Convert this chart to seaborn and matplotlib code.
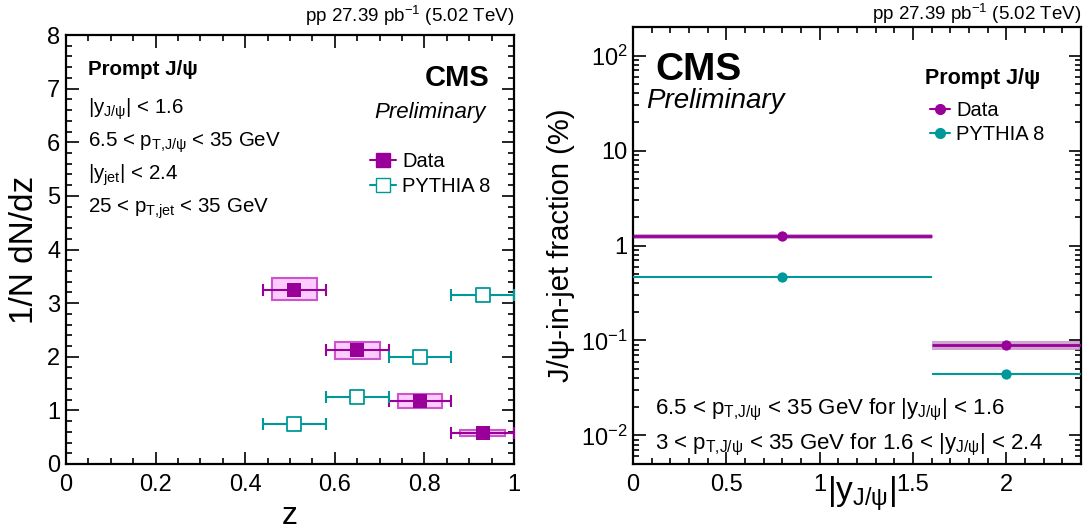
import matplotlib
matplotlib.use('Agg')
import matplotlib.pyplot as plt
import matplotlib.ticker as mticker
from matplotlib.patches import Rectangle
from matplotlib.lines import Line2D
import seaborn as sns
import numpy as np
import pandas as pd

# left panel: z distribution
z_centers = [0.51, 0.65, 0.79, 0.93]
z_lo = [0.44, 0.58, 0.72, 0.86]
z_hi = [0.58, 0.72, 0.86, 1.00]
data_dndz = [3.25, 2.12, 1.18, 0.58]
data_syst_lo = [3.05, 1.96, 1.05, 0.52]
data_syst_hi = [3.46, 2.28, 1.31, 0.64]
pythia_dndz = [0.74, 1.25, 2.00, 3.15]

# right panel: J/psi-in-jet fraction vs |y|
y_centers = [0.8, 2.0]
y_lo = [0.0, 1.6]
y_hi = [1.6, 2.4]
data_frac = [1.26, 0.0885]
data_frac_lo = [1.16, 0.080]
data_frac_hi = [1.32, 0.098]
pythia_frac = [0.465, 0.0446]

PURPLE = '#990099'
TEAL = '#009999'
BOX_FC = '#ffccff'
BOX_EC = '#cc55cc'
BAND = '#c896c8'

sns.set_theme(style='ticks')
plt.rcParams['font.family'] = ['Liberation Sans', 'DejaVu Sans']
plt.rcParams.update({'mathtext.fontset': 'custom',
                     'mathtext.rm': 'Liberation Sans',
                     'mathtext.it': 'Liberation Sans:italic',
                     'mathtext.bf': 'Liberation Sans:bold',
                     'axes.linewidth': 1.6,
                     'axes.edgecolor': 'black',
                     'text.color': 'black',
                     'axes.labelcolor': 'black',
                     'xtick.color': 'black',
                     'ytick.color': 'black'})

fig = plt.figure(figsize=(10.85, 5.31), dpi=100)
ax1 = fig.add_axes([66 / 1085, 1 - 464 / 531, 448 / 1085, 429 / 531])
ax2 = fig.add_axes([633 / 1085, 1 - 464 / 531, 448 / 1085, 437 / 531])

left = pd.DataFrame({'z': z_centers, 'lo': z_lo, 'hi': z_hi,
                     'data': data_dndz, 'slo': data_syst_lo,
                     'shi': data_syst_hi, 'pythia': pythia_dndz})
right = pd.DataFrame({'y': y_centers, 'lo': y_lo, 'hi': y_hi,
                      'data': data_frac, 'blo': data_frac_lo,
                      'bhi': data_frac_hi, 'pythia': pythia_frac})

# ---- left panel ----
for _, r in left.iterrows():
    ax1.add_patch(Rectangle((r['z'] - 0.05, r['slo']), 0.10, r['shi'] - r['slo'],
                            fc=BOX_FC, ec=BOX_EC, lw=1.5, zorder=2))
ax1.errorbar(left['z'], left['data'],
             xerr=[left['z'] - left['lo'], left['hi'] - left['z']],
             fmt='none', ecolor=PURPLE, elinewidth=1.5, capsize=4,
             capthick=1.5, zorder=3)
ax1.errorbar(left['z'], left['pythia'],
             xerr=[left['z'] - left['lo'], left['hi'] - left['z']],
             fmt='none', ecolor=TEAL, elinewidth=1.5, capsize=4,
             capthick=1.5, zorder=3)
sns.scatterplot(data=left, x='z', y='data', ax=ax1, marker='s', s=100,
                color=PURPLE, edgecolor=PURPLE, linewidth=0, zorder=4)
sns.scatterplot(data=left, x='z', y='pythia', ax=ax1, marker='s', s=100,
                facecolor='white', edgecolor=TEAL, linewidth=1.3, zorder=4)

ax1.set_xlim(0, 1)
ax1.set_ylim(0, 8)
ax1.xaxis.set_major_locator(mticker.MultipleLocator(0.2))
ax1.xaxis.set_minor_locator(mticker.MultipleLocator(0.05))
ax1.yaxis.set_major_locator(mticker.MultipleLocator(1))
ax1.yaxis.set_minor_locator(mticker.MultipleLocator(0.2))
ax1.xaxis.set_major_formatter(mticker.FuncFormatter(lambda v, p: f'{v:g}'))
ax1.set_xlabel('z', fontsize=23)
ax1.set_ylabel('1/N dN/dz', fontsize=24, labelpad=5)

t_kw = dict(transform=ax1.transAxes, fontsize=14.8, va='baseline', ha='left')
ax1.text(0.049, 0.906, 'Prompt J/ψ', fontweight='bold', **t_kw)
ax1.text(0.049, 0.817, r'|y$_\mathregular{J/ψ}$| < 1.6', **t_kw)
ax1.text(0.049, 0.739, r'6.5 < p$_\mathregular{T{,}J/ψ}$ < 35 GeV', **t_kw)
ax1.text(0.049, 0.662, r'|y$_\mathregular{jet}$| < 2.4', **t_kw)
ax1.text(0.049, 0.585, r'25 < p$_\mathregular{T{,}jet}$ < 35 GeV', **t_kw)
ax1.text(0.946, 0.88, 'CMS', transform=ax1.transAxes, fontsize=21,
         fontweight='bold', ha='right', va='baseline')
ax1.text(0.9375, 0.807, 'Preliminary', transform=ax1.transAxes, fontsize=16,
         style='italic', ha='right', va='baseline')
ax1.text(1.0, 1.03, r'pp 27.39 pb$^\mathregular{-1}$ (5.02 TeV)',
         transform=ax1.transAxes, fontsize=13.5, ha='right', va='baseline')

h_data = Line2D([], [], color=PURPLE, marker='s', markersize=10, lw=1.5)
h_py = Line2D([], [], color=TEAL, marker='s', markersize=10, lw=1.5,
              mfc='white', mec=TEAL)
ax1.legend([h_data, h_py], ['Data', 'PYTHIA 8'], frameon=False, fontsize=14.5,
           loc='upper left', bbox_to_anchor=(0.66, 0.745), handlelength=1.3,
           handletextpad=0.3, labelspacing=0.3, borderaxespad=0)

# ---- right panel ----
for _, r in right.iterrows():
    ax2.add_patch(Rectangle((r['lo'], r['blo']), r['hi'] - r['lo'],
                            r['bhi'] - r['blo'], fc=BAND, ec='none',
                            alpha=0.85, zorder=2))
ax2.errorbar(right['y'], right['data'],
             xerr=[right['y'] - right['lo'], right['hi'] - right['y']],
             fmt='none', ecolor=PURPLE, elinewidth=2, capsize=0, zorder=3)
ax2.errorbar(right['y'], right['pythia'],
             xerr=[right['y'] - right['lo'], right['hi'] - right['y']],
             fmt='none', ecolor=TEAL, elinewidth=1.5, capsize=0, zorder=3)
sns.scatterplot(data=right, x='y', y='data', ax=ax2, marker='o', s=55,
                color=PURPLE, linewidth=0, zorder=4)
sns.scatterplot(data=right, x='y', y='pythia', ax=ax2, marker='o', s=55,
                color=TEAL, linewidth=0, zorder=4)

ax2.set_yscale('log')
ax2.set_xlim(0, 2.4)
ax2.set_ylim(0.005, 200)
ax2.xaxis.set_major_locator(mticker.FixedLocator([0, 0.5, 1, 1.5, 2]))
ax2.xaxis.set_minor_locator(mticker.MultipleLocator(0.1))
ax2.xaxis.set_major_formatter(mticker.FuncFormatter(lambda v, p: f'{v:g}'))
ax2.yaxis.set_major_locator(mticker.LogLocator(base=10, numticks=10))
ax2.yaxis.set_minor_locator(mticker.LogLocator(base=10, subs=np.arange(2, 10),
                                               numticks=20))
ylabels = {-2: r'$10^{-2}$', -1: r'$10^{-1}$', 0: '1', 1: '10', 2: r'$10^{2}$'}
ax2.yaxis.set_major_formatter(mticker.FuncFormatter(
    lambda v, p: ylabels.get(int(round(np.log10(v))), '')))
ax2.yaxis.set_minor_formatter(mticker.NullFormatter())
ax2.set_xlabel(r'|y$_\mathregular{J/ψ}$|', fontsize=24)
ax2.xaxis.set_label_coords(0.51, -0.025)
ax2.set_ylabel('J/ψ-in-jet fraction (%)', fontsize=21, labelpad=4)

ax2.text(0.051, 0.878, 'CMS', transform=ax2.transAxes, fontsize=28,
         fontweight='bold', ha='left', va='baseline')
ax2.text(0.029, 0.815, 'Preliminary', transform=ax2.transAxes, fontsize=20,
         style='italic', ha='left', va='baseline')
ax2.text(0.652, 0.869, 'Prompt J/ψ', transform=ax2.transAxes, fontsize=15.5,
         fontweight='bold', ha='left', va='baseline')
b_kw = dict(transform=ax2.transAxes, fontsize=16, va='baseline', ha='left')
ax2.text(0.048, 0.113,
         r'6.5 < p$_\mathregular{T{,}J/ψ}$ < 35 GeV for |y$_\mathregular{J/ψ}$| < 1.6',
         **b_kw)
ax2.text(0.048, 0.034,
         r'3 < p$_\mathregular{T{,}J/ψ}$ < 35 GeV for 1.6 < |y$_\mathregular{J/ψ}$| < 2.4',
         **b_kw)
ax2.text(1.0, 1.015, r'pp 27.39 pb$^\mathregular{-1}$ (5.02 TeV)',
         transform=ax2.transAxes, fontsize=13.5, ha='right', va='baseline')

r_data = Line2D([], [], color=PURPLE, marker='o', markersize=7, lw=1.5)
r_py = Line2D([], [], color=TEAL, marker='o', markersize=7, lw=1.5)
ax2.legend([r_data, r_py], ['Data', 'PYTHIA 8'], frameon=False, fontsize=14.5,
           loc='upper left', bbox_to_anchor=(0.645, 0.85), handlelength=1.0,
           handletextpad=0.3, labelspacing=0.25, borderaxespad=0)

for ax in (ax1, ax2):
    ax.tick_params(which='both', direction='in', top=True, right=True,
                   labelsize=17, width=1.2)
    ax.tick_params(which='major', length=9, pad=7)
    ax.tick_params(which='minor', length=4.5)
    ax.tick_params(axis='y', which='major', pad=4)
    ax.grid(False)
    for s in ax.spines.values():
        s.set_visible(True)
        s.set_linewidth(1.6)

fig.savefig('out.png', dpi=100)
